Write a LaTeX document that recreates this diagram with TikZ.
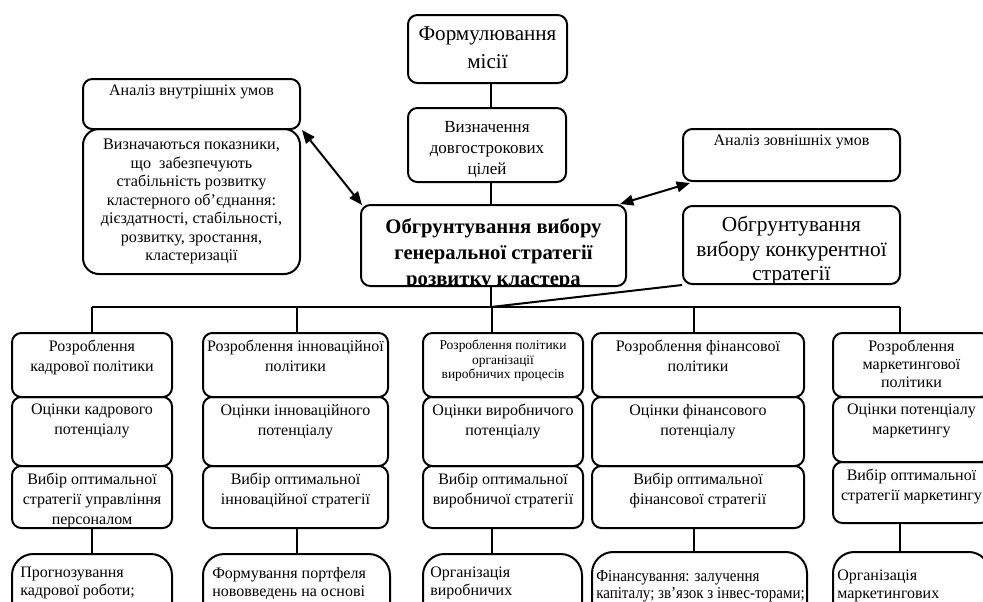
\documentclass[tikz,border=0pt]{standalone}
\usepackage{fontspec}
\setmainfont{Liberation Serif}
\newfontfamily\condfont[FakeStretch=0.9]{Liberation Serif}
\usetikzlibrary{arrows.meta,fit}
\newcommand\fsz[2]{\fontsize{#1}{#2}\selectfont}
\newcommand\colf{\fsz{12}{15}}
\newcommand\colbox[5]{%
  \node[box, fit={#2 #3}] (#1) {};
  \node[txt, font=#4, anchor=north] (#1T) at ([yshift=-6pt]#1.north) {#5};}
\begin{document}
\begin{tikzpicture}[x=0.75pt,y=-0.75pt,
  box/.style={draw, line width=1.5pt, rounded corners=7pt, inner sep=0pt},
  bigbox/.style={box, rounded corners=16pt},
  wire/.style={line width=1.5pt},
  dbl/.style={line width=1.5pt, {Triangle[length=10pt,width=8pt]}-{Triangle[length=10pt,width=8pt]}},
  txt/.style={inner sep=0pt, align=center},
  ltxt/.style={inner sep=0pt, align=left, anchor=north west}]
\useasboundingbox (0,0) rectangle (983,601);
\clip (0,0) rectangle (983,601);

% top chain
\node[box, fit={(408,15) (567,83)}] (mis) {};
\node[txt, font=\fsz{15.8}{21}] (misT) at ([yshift=1pt]mis.center) {Формулювання\\місії};
\node[box, fit={(408,108) (566,182)}] (goal) {};
\node[txt, font=\fsz{12.75}{15.75}] (goalT) at ([yshift=-3.5pt]goal.center) {Визначення\\довгострокових\\цілей};

% left boxes
\node[box, fit={(83,79) (300,129)}] (intern) {};
\node[txt, font=\fsz{12}{14}, anchor=north] (internT) at ([yshift=-5pt]intern.north) {Аналіз внутрішніх умов};
\node[box, rounded corners=12pt, fit={(83,129) (300,274)}] (indic) {};
\node[txt, font=\fsz{12.1}{13.9}] (indicT) at (indic.center) {Визначаються показники,\\що\ \ забезпечують\\стабільність розвитку\\кластерного об’єднання:\\дієздатності, стабільності,\\розвитку, зростання,\\кластеризації};

% right boxes
\node[box, fit={(683,129) (900,181)}] (extern) {};
\node[txt, font=\fsz{12}{13}, anchor=north] (externT) at ([yshift=-5pt]extern.north) {Аналіз зовнішніх умов};
\begin{scope}
\clip[rounded corners=7pt] (683,206) rectangle (900,284);
\node[txt, font=\fsz{16}{18.5}, anchor=north] (konkT) at (791.5,216) {Обгрунтування\\вибору конкурентної\\стратегії};
\end{scope}
\node[box, fit={(683,206) (900,284)}] (konk) {};

% central
\begin{scope}
\clip[rounded corners=7pt] (361,205) rectangle (626,286);
\node[txt, font=\bfseries\fsz{15.5}{19.5}, anchor=north] (centT) at (493.5,218) {Обгрунтування вибору\\генеральної стратегії\\розвитку кластера};
\end{scope}
\node[box, fit={(361,205) (626,286)}] (cent) {};

% spine and bus
\coordinate (spine) at (491,0);
\coordinate (junc) at (491,307);
\coordinate (j1) at (92,307);
\coordinate (j2) at (297,307);
\coordinate (j3) at (492,307);
\coordinate (j4) at (694,307);
\coordinate (j5) at (900,307);
\draw[wire] (mis.south -| spine) -- (goal.north -| spine);
\draw[wire] (goal.south -| spine) -- (cent.north -| spine);
\draw[wire] (cent.south -| spine) -- (junc);
\draw[wire] (j1) -- (j5);
\draw[wire] (konk.south west) -- (junc);
\draw[dbl] ([shift={(1,2)}]indic.north east) -- ([shift={(2,1)}]cent.north west);
\draw[dbl] ([shift={(-7,0)}]cent.north east) -- ([shift={(8,1)}]extern.south west);

% column 1
\colbox{c1a}{(12,333)}{(172,397)}{\colf}{Розроблення\\кадрової політики}
\colbox{c1b}{(12,397)}{(172,466)}{\colf}{Оцінки кадрового\\потенціалу}
\colbox{c1c}{(12,466)}{(172,528)}{\colf}{Вибір оптимальної\\стратегії управління\\персоналом}
\node[bigbox, fit={(12,554) (172,660)}] (c1d) {};
\node[ltxt, font=\fsz{12}{13.5}] (c1dT) at ([shift={(9,14)}]c1d.north west) {Прогнозування\\кадрової роботи;};

% column 2
\colbox{c2a}{(203,333)}{(388,397)}{\colf}{Розроблення інноваційної\\політики}
\colbox{c2b}{(203,397)}{(388,466)}{\colf}{Оцінки інноваційного\\потенціалу}
\colbox{c2c}{(203,466)}{(388,528)}{\colf}{Вибір оптимальної\\інноваційної стратегії}
\node[bigbox, fit={(203,554) (390,660)}] (c2d) {};
\node[ltxt, font=\fsz{12}{13.5}] (c2dT) at ([shift={(10,14)}]c2d.north west) {Формування портфеля\\нововведень на основі};

% column 3
\colbox{c3a}{(423,333)}{(583,397)}{\fsz{10.1}{10.8}}{Розроблення політики\\організації\\виробничих процесів}
\colbox{c3b}{(423,397)}{(583,466)}{\colf}{Оцінки виробничого\\потенціалу}
\colbox{c3c}{(423,466)}{(583,528)}{\colf}{Вибір оптимальної\\виробничої стратегії}
\node[bigbox, fit={(423,554) (582,660)}] (c3d) {};
\node[ltxt, font=\fsz{12}{13.5}] (c3dT) at ([shift={(8,14)}]c3d.north west) {Організація\\виробничих};

% column 4
\colbox{c4a}{(592,333)}{(804,397)}{\colf}{Розроблення фінансової\\політики}
\colbox{c4b}{(592,397)}{(804,466)}{\colf}{Оцінки фінансового\\потенціалу}
\colbox{c4c}{(592,466)}{(804,528)}{\colf}{Вибір оптимальної\\фінансової стратегії}
\node[bigbox, fit={(592,552) (807,660)}] (c4d) {};
\node[ltxt, font=\condfont\fsz{12.5}{13}] (c4dT) at ([shift={(5,19)}]c4d.north west) {Фінансування: залучення\\капіталу; зв’язок з інвес-торами;};

% column 5
\colbox{c5a}{(833,333)}{(990,397)}{\fsz{12}{13.5}}{Розроблення\\маркетингової\\політики}
\colbox{c5b}{(833,397)}{(990,462)}{\colf}{Оцінки потенціалу\\маркетингу}
\colbox{c5c}{(833,462)}{(990,523)}{\colf}{Вибір оптимальної\\стратегії маркетингу}
\node[bigbox, fit={(833,552) (990,660)}] (c5d) {};
\node[ltxt, font=\fsz{12}{13.5}] (c5dT) at ([shift={(5,19)}]c5d.north west) {Організація\\маркетингових};

% drops
\draw[wire] (j1) -- (j1 |- c1a.north);
\draw[wire] (j2) -- (j2 |- c2a.north);
\draw[wire] (j3) -- (j3 |- c3a.north);
\draw[wire] (j4) -- (j4 |- c4a.north);
\draw[wire] (j5) -- (j5 |- c5a.north);
\draw[wire] (c1c.south -| j1) -- (c1d.north -| j1);
\draw[wire] (c2c.south -| j2) -- (c2d.north -| j2);
\draw[wire] (c3c.south -| j3) -- (c3d.north -| j3);
\draw[wire] (c4c.south -| j4) -- (c4d.north -| j4);
\draw[wire] (c5c.south -| j5) -- (c5d.north -| j5);
\end{tikzpicture}
\end{document}
